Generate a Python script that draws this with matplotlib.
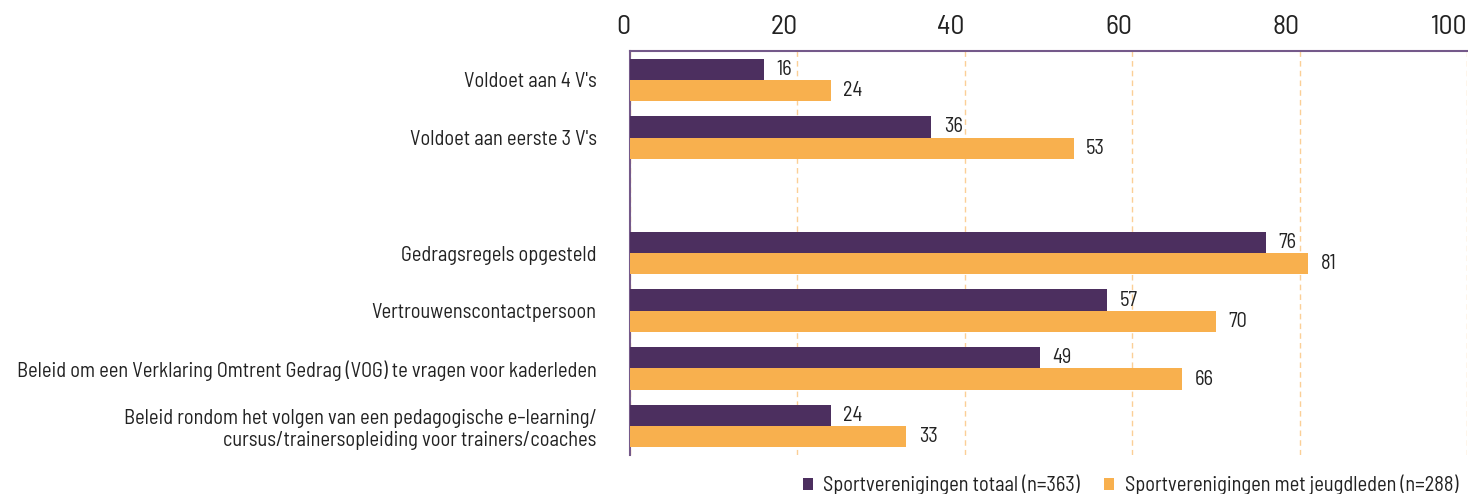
import matplotlib.pyplot as plt
import numpy as np

plt.rcParams['font.family'] = ['Barlow Semi Condensed', 'Fira Sans Extra Condensed', 'DejaVu Sans']

categories = [
    "Voldoet aan 4 V's",
    "Voldoet aan eerste 3 V's",
    "",
    "Gedragsregels opgesteld",
    "Vertrouwenscontactpersoon",
    "Beleid om een Verklaring Omtrent Gedrag (VOG) te vragen voor kaderleden",
    "Beleid rondom het volgen van een pedagogische e\u2013learning/\ncursus/trainersopleiding voor trainers/coaches",
]
totaal = [16, 36, None, 76, 57, 49, 24]
jeugd = [24, 53, None, 81, 70, 66, 33]
series_names = ["Sportverenigingen totaal (n=363)", "Sportverenigingen met jeugdleden (n=288)"]

purple = "#4c2f5f"
orange = "#f8b04e"

fig = plt.figure(figsize=(14.68, 4.94), dpi=100)
ax = fig.add_axes([630 / 1468, 1 - 455 / 494, 837 / 1468, 404 / 494])

y = np.arange(len(categories))
h = 0.37
for vals, off, col, name in [(totaal, -h / 2, purple, series_names[0]),
                             (jeugd, h / 2, orange, series_names[1])]:
    idx = [i for i, v in enumerate(vals) if v is not None]
    v = [vals[i] for i in idx]
    bars = ax.barh(y[idx] + off, v, height=h, color=col, label=name, zorder=3)
    for b, val in zip(bars, v):
        ax.text(b.get_width() + 1.5, b.get_y() + b.get_height() / 2, str(val),
                va='center', ha='left', fontsize=14.7, color='#222222')

ax.set_xlim(0, 100)
ax.set_ylim(len(categories) - 0.5, -0.5)
ax.set_xticks([0, 20, 40, 60, 80, 100])
ax.xaxis.tick_top()
ax.tick_params(axis='x', labelsize=20, length=0, pad=9, colors='#222222')
for lbl in ax.get_xticklabels():
    lbl.set_horizontalalignment('right')
ax.set_yticks(y)
ax.set_yticklabels(categories, fontsize=14.7, color='#222222')
ax.tick_params(axis='y', length=0, pad=24)

ax.grid(axis='x', color='#fbcf96', linestyle=(0, (4, 3)), linewidth=1, zorder=0)
for s in ['right', 'bottom']:
    ax.spines[s].set_visible(False)
ax.spines['top'].set_color('#74598a')
ax.spines['left'].set_color('#74598a')
ax.spines['top'].set_linewidth(1.5)
ax.spines['left'].set_linewidth(1.5)

fig.legend(loc='center right', bbox_to_anchor=(1458 / 1468, 9 / 494), ncol=2, frameon=False,
           fontsize=14.7, handlelength=0.5, handleheight=0.5, handletextpad=0.5,
           columnspacing=1.2, borderaxespad=0, borderpad=0, labelcolor='#222222')

fig.savefig("out.png", dpi=100)
